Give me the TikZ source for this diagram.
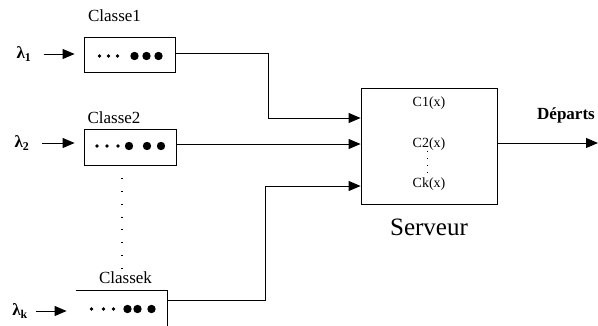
\documentclass[tikz,border=0pt]{standalone}
\usepackage{fontspec}
\setmainfont{Liberation Serif}
\usetikzlibrary{positioning, arrows.meta}
\tikzset{qbox/.style={minimum width=91pt, minimum height=35pt, inner sep=0pt, line width=0.8pt}}
\tikzset{srv/.style={draw, minimum width=136pt, minimum height=116pt, inner sep=0pt, line width=0.8pt}}
\tikzset{arr/.style={draw, line width=0.9pt, -{Triangle[length=12pt, width=10pt]}}}
\tikzset{inarr/.style={arr, shorten <=12pt, shorten >=9pt}}
\tikzset{lam/.style={font=\fontsize{17}{19}\selectfont\bfseries, inner sep=0pt}}
\tikzset{cls/.style={font=\fontsize{17}{19}\selectfont, inner sep=0pt}}
\tikzset{fn/.style={font=\fontsize{14}{16}\selectfont, inner sep=0pt}}
\tikzset{vdots/.style={draw, line width=1.2pt, dash pattern=on 0.8pt off 12pt}}

\begin{document}
\begin{tikzpicture}[x=1pt, y=-1pt]
				\useasboundingbox (0,0) rectangle (598,325);
				% files d'attente
				\node[qbox, draw] (Q1) at (129.5,55) {};
				\node[qbox, draw, minimum width=92pt, minimum height=36pt] (Q2) at (130,147) {};
				\node[qbox, minimum height=38pt] (Qk) at (121.5,310) {};
				\draw[line width=0.8pt] (Qk.north west) -- (Qk.north east) -- (Qk.south east);
				%
				\node[cls, above=15pt of Q1, xshift=-15pt] (C1) {Classe1};
				\node[cls, above=5pt of Q2, xshift=-16pt] (C2) {Classe2};
				\node[cls, above=7pt of Qk, xshift=4pt] (Ck) {Classek};
				%
				\foreach \d/\r in {-30/1.8, -21/1.8, -12/1.8, 5/4.2, 17/4.2, 29/4.2}
					\fill ([xshift=\d pt, yshift=-1pt]Q1.center) circle (\r pt);
				\foreach \d/\r in {-33/1.8, -23/1.8, -12/1.8, -1/4.2, 17/4.2, 31/4.2}
					\fill ([xshift=\d pt, yshift=1pt]Q2.center) circle (\r pt);
				\foreach \d/\r in {-30/1.8, -18/1.8, -8/1.8, 6/4.2, 16/4.2, 30/4.2}
					\fill ([xshift=\d pt, yshift=1pt]Qk.center) circle (\r pt);
				%
				\node[lam] (L1) at (24,54) {λ\textsubscript{1}};
				\node[lam] (L2) at (22,143) {λ\textsubscript{2}};
				\node[lam] (Lk) at (20,311) {λ\textsubscript{k}};
				\draw[inarr] (L1) -- (L1 -| Q1.west);
				\draw[inarr] (L2) -- (L2 -| Q2.west);
				\draw[inarr, shorten <=8pt] (Lk) -- (Lk -| Qk.west);
				%
				\coordinate (vd) at (122,268);
				\draw[vdots] (Q2.south -| vd) -- (vd);
				% serveur
				\node[srv] (S) at (429,146) {};
				\node[fn] (F1) at (429,103) {C1(x)};
				\node[fn] (F2) at (429,144) {C2(x)};
				\node[fn] (Fk) at (429,184) {Ck(x)};
				\draw[line width=1pt, dash pattern=on 0.8pt off 6.5pt] ([xshift=-2pt]F2.south) -- ([xshift=-2pt]Fk.north);
				\node[font=\fontsize{25}{29}\selectfont, below=11pt of S] (Sn) {Serveur};
				%
				\coordinate (in1) at ([yshift=28pt]S.west);
				\coordinate (in2) at ([yshift=2pt]S.west);
				\coordinate (ink) at ([yshift=-40pt]S.west);
				\coordinate (b1) at (268,0);
				\coordinate (bk) at (265,0);
				\draw[arr] ([yshift=2pt]Q1.east) -| (b1 |- in1) -- (in1);
				\draw[arr] (Q2.east |- in2) -- (in2);
				\draw[arr] ([yshift=-10pt]Qk.north east) -| (bk |- ink) -- (ink);
				%
				\coordinate (out) at (598,143);
				\draw[arr] (S.east |- out) -- (out);
				\node[font=\fontsize{17}{19}\selectfont\bfseries, anchor=west, inner sep=0pt] (D) at (537,115) {Départs};
			\end{tikzpicture}
\end{document}
